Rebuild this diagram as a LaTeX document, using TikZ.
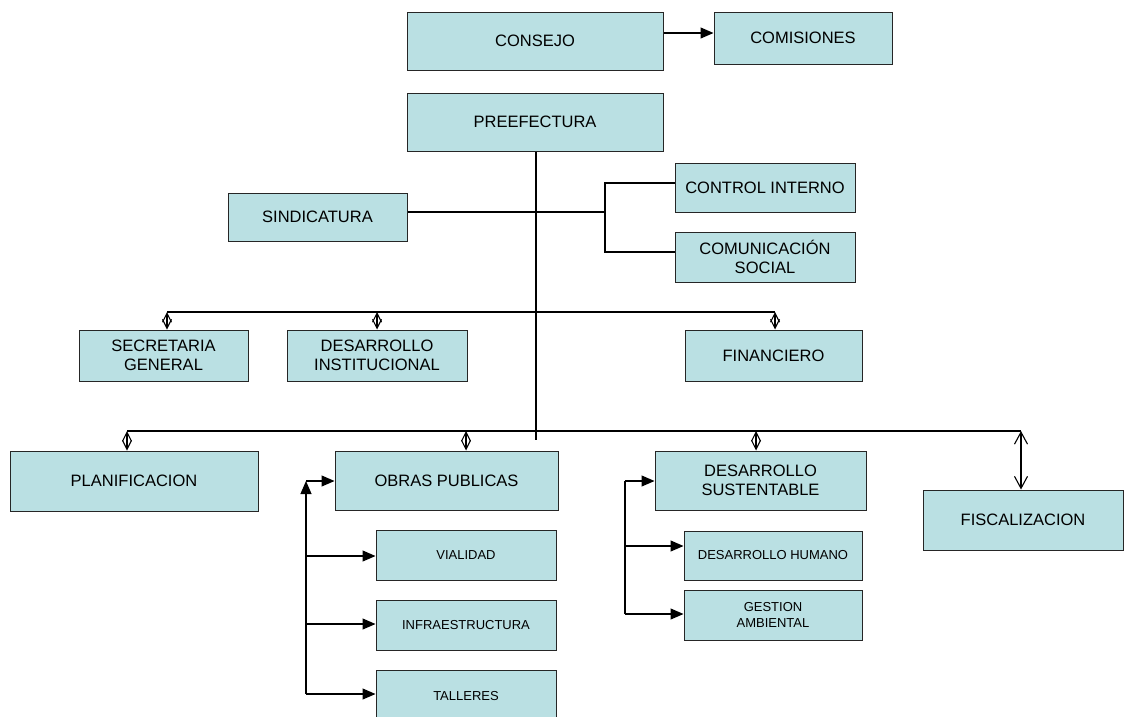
\documentclass[tikz,border=0pt]{standalone}
\usepackage{fontspec}
\setmainfont{Liberation Sans}
\usetikzlibrary{arrows.meta}
\definecolor{boxfill}{HTML}{BAE0E3}
\tikzset{
  box/.style={draw=black!85, line width=1pt, fill=boxfill, inner sep=0pt, align=center,
    font=\fontsize{16.5}{18.5}\selectfont},
  smallbox/.style={box, font=\fontsize{13}{15.5}\selectfont},
  conn/.style={line width=1.1pt},
  dbl/.style={conn, {Straight Barb[length=9pt,width=9pt]}-{Straight Barb[length=9pt,width=9pt]}},
  dblbig/.style={conn, {Straight Barb[length=12pt,width=13pt]}-{Straight Barb[length=12pt,width=13pt]}},
  tri/.style={conn, -{Triangle[length=13pt,width=11pt]}},
}
\begin{document}
\begin{tikzpicture}[x=1pt,y=-1pt]
\clip (0,0) rectangle (1135,716);
\fill[white] (0,0) rectangle (1135,716);
% boxes
\node[box, minimum width=256, minimum height=58] (consejo) at (535,41) {CONSEJO};
\node[box, minimum width=178, minimum height=52] (comisiones) at (803,38) {COMISIONES};
\node[box, minimum width=256, minimum height=58] (pref) at (535,122) {PREEFECTURA};
\node[box, minimum width=179, minimum height=48] (sind) at (317.5,217) {SINDICATURA};
\node[box, minimum width=180, minimum height=49] (ctrl) at (765,187.5) {CONTROL INTERNO};
\node[box, minimum width=180, minimum height=50] (comu) at (765,257) {COMUNICACIÓN\\SOCIAL};
\node[box, minimum width=169, minimum height=51] (secr) at (163.5,355.5) {SECRETARIA\\GENERAL};
\node[box, minimum width=180, minimum height=51] (dinst) at (377,355.5) {DESARROLLO\\INSTITUCIONAL};
\node[box, minimum width=177, minimum height=51] (fin) at (773.5,355.5) {FINANCIERO};
\node[box, minimum width=248, minimum height=60] (plan) at (134,481) {PLANIFICACION};
\node[box, minimum width=223, minimum height=59] (obras) at (446.5,480.5) {OBRAS PUBLICAS};
\node[box, minimum width=211, minimum height=59] (dsus) at (760.5,480.5) {DESARROLLO\\SUSTENTABLE};
\node[box, minimum width=200, minimum height=60] (fisc) at (1023,520) {FISCALIZACION};
\node[smallbox, minimum width=180, minimum height=50] (vial) at (466,555) {VIALIDAD};
\node[smallbox, minimum width=180, minimum height=50] (infra) at (466,625) {INFRAESTRUCTURA};
\node[smallbox, minimum width=180, minimum height=52] (tall) at (466,696) {TALLERES};
\node[smallbox, minimum width=178, minimum height=49] (dhum) at (773,555.5) {DESARROLLO HUMANO};
\node[smallbox, minimum width=178, minimum height=50] (gest) at (773,615) {GESTION\\AMBIENTAL};
% coordinates
\coordinate (mainbot) at (536,440);
\coordinate (sj) at (605,212);
\coordinate (sjt) at (605,183);
\coordinate (sjb) at (605,252);
\coordinate (b1l) at (167,312);
\coordinate (b1r) at (775,312);
\coordinate (b2l) at (127,431);
\coordinate (b2r) at (1021,431);
\coordinate (ot) at (306,481);
\coordinate (o1) at (306,556);
\coordinate (o2) at (306,624);
\coordinate (o3) at (306,694);
\coordinate (dt) at (625,481);
\coordinate (d1) at (625,546);
\coordinate (d2) at (625,614);
% connectors
\draw[tri] (consejo.east |- 0,33) -- (comisiones.west |- 0,33);
\draw[conn] (pref.south -| mainbot) -- (mainbot);
\draw[conn] (sind.east |- sj) -- (sj);
\draw[conn] (ctrl.west |- sjt) -- (sjt) -- (sjb) -- (comu.west |- sjb);
\draw[conn] (b1l) -- (b1r);
\draw[dbl] (b1l) -- (secr.north -| b1l);
\draw[dbl] (dinst.north |- b1l) -- (dinst.north);
\draw[dbl] (b1r) -- (fin.north -| b1r);
\draw[conn] (b2l) -- (b2r);
\draw[dbl] (b2l) -- (plan.north -| b2l);
\draw[dbl] (466,431) -- (obras.north -| 466,0);
\draw[dbl] (756,431) -- (dsus.north -| 756,0);
\draw[dblbig] (b2r) -- (fisc.north -| b2r);
% obras subtree
\draw[tri] (o3) -- (ot);
\draw[conn, line width=1.8pt] (o2) -- ([yshift=-8pt]ot);
\draw[tri] (ot) -- (obras.west |- ot);
\draw[tri] (o1) -- (vial.west |- o1);
\draw[tri] (o2) -- (infra.west |- o2);
\draw[tri] (o3) -- (tall.west |- o3);
% desarrollo sustentable subtree
\draw[conn] (d2) -- (dt);
\draw[tri] (dt) -- (dsus.west |- dt);
\draw[tri] (d1) -- (dhum.west |- d1);
\draw[tri] (d2) -- (gest.west |- d2);
\end{tikzpicture}
\end{document}
